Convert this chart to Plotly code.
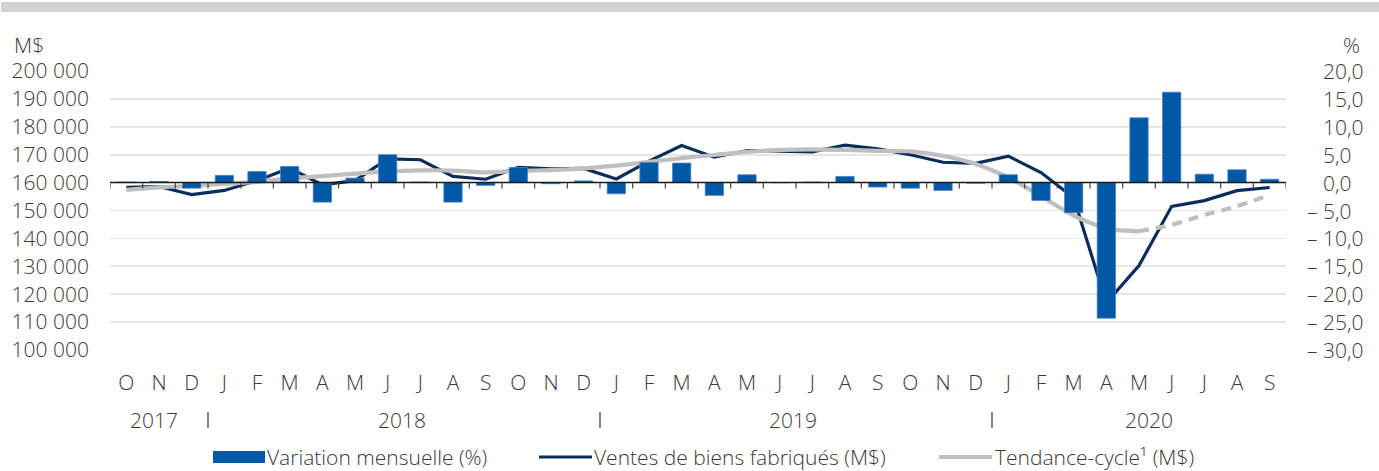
import plotly.graph_objects as go

# ---------------- data ----------------
months = ["O", "N", "D"] + ["J", "F", "M", "A", "M", "J", "J", "A", "S", "O", "N", "D"] * 2 + \
         ["J", "F", "M", "A", "M", "J", "J", "A", "S"]
years = ["2017", "2018", "2019", "2020"]
year_pos = [0.85, 8.45, 20.4, 31.3]
year_breaks = [2.5, 14.5, 26.5]

variation = [0.1, 0.2, -1.0, 1.3, 2.0, 2.9, -3.5, 0.8, 5.0, 0.1, -3.5, -0.5,
             2.7, -0.2, 0.3, -2.0, 3.6, 3.5, -2.3, 1.4, 0.0, 0.1, 1.1, -0.8,
             -1.0, -1.4, -0.1, 1.4, -3.2, -5.4, -24.3, 11.6, 16.2, 1.5, 2.3, 0.6]

ventes = [158300, 158600, 155700, 157200, 160700, 165200, 159200, 160700, 168500, 168200, 162200, 161200,
          165500, 164900, 165100, 161300, 167700, 173300, 169100, 171500, 171300, 171000, 173400, 172100,
          170000, 167300, 166900, 169500, 163600, 154600, 116900, 130250, 151500, 153550, 157130, 158250]

tendance = [157400, 158300, 158800, 159500, 160300, 161500, 162300, 163200, 164000, 164400, 164300, 163700,
            164200, 164500, 165100, 166100, 167400, 168800, 169900, 171000, 171700, 171900, 171700, 171350,
            171200, 169600, 166700, 161900, 155100, 148200, 143500, 142550, 144800, 148400, 151500, 155600]
trend_solid_end = 31  # last index of the solid part; dashed afterwards

left_ticks = [100000, 110000, 120000, 130000, 140000, 150000, 160000, 170000, 180000, 190000, 200000]
left_labels = ["100 000", "110 000", "120 000", "130 000", "140 000", "150 000",
               "160 000", "170 000", "180 000", "190 000", "200 000"]
right_ticks = [20, 15, 10, 5, 0, -5, -10, -15, -20, -25, -30]
right_labels = ["20,0", "15,0", "10,0", "5,0", "0,0", "\u2013 5,0", "\u2013 10,0",
                "\u2013 15,0", "\u2013 20,0", "\u2013 25,0", "\u2013 30,0"]

legend_labels = ["Variation mensuelle (%)", "Ventes de biens fabriqués (M$)", "Tendance-cycle¹ (M$)"]

# ---------------- style ----------------
W, H = 1379, 471
L, R, T, B = 110, 1286, 71, 350
BAR = "#0058a6"
NAVY = "#0b2d5b"
GREY = "#bfbfbf"
TXT = "#3a3a3a"
FONT = "Open Sans"
FS = 21
LEG_Y = 457

def px(x):
    return (x - L) / (R - L)

def py(y):
    return (B - y) / (B - T)

idx = list(range(len(months)))

fig = go.Figure()
fig.add_trace(go.Bar(x=idx, y=variation, yaxis="y2", width=0.56,
                     marker=dict(color=BAR, line=dict(color="#4d83c2", width=0.8)),
                     name=legend_labels[0], showlegend=False))
fig.add_trace(go.Scatter(x=idx, y=ventes, mode="lines", line=dict(color=NAVY, width=3.2),
                         name=legend_labels[1], showlegend=False))
fig.add_trace(go.Scatter(x=idx[:trend_solid_end + 1], y=tendance[:trend_solid_end + 1], mode="lines",
                         line=dict(color=GREY, width=4.2, shape="spline", smoothing=0.6),
                         name=legend_labels[2], showlegend=False))
fig.add_trace(go.Scatter(x=idx[trend_solid_end:], y=tendance[trend_solid_end:], mode="lines",
                         line=dict(color=GREY, width=4.2, dash="10px,7px"),
                         showlegend=False))

shapes = []
# top band
shapes.append(dict(type="rect", xref="paper", yref="paper", x0=px(1), x1=px(1379), y0=py(12), y1=py(2),
                   fillcolor="#d1d2d4", line=dict(width=0), layer="below"))
# zero axis line
shapes.append(dict(type="line", xref="paper", yref="y", x0=0, x1=1, y0=160000, y1=160000,
                   line=dict(color="#1a1a1a", width=1.5)))
# category tick marks on the axis line
for k in range(len(months) + 1):
    shapes.append(dict(type="line", xref="x", yref="paper", x0=k - 0.5, x1=k - 0.5,
                       y0=0.6, y1=0.6 - 6 / (B - T), line=dict(color="#444444", width=1.2)))
# year separators
for b in year_breaks:
    shapes.append(dict(type="line", xref="x", yref="paper", x0=b, x1=b, y0=py(412), y1=py(428),
                       line=dict(color=TXT, width=1.2)))
# legend swatches
shapes.append(dict(type="rect", xref="paper", yref="paper", x0=px(213), x1=px(265),
                   y0=py(LEG_Y + 6), y1=py(LEG_Y - 6), fillcolor=BAR, line=dict(width=0)))
shapes.append(dict(type="line", xref="paper", yref="paper", x0=px(539), x1=px(592), y0=py(LEG_Y), y1=py(LEG_Y),
                   line=dict(color=NAVY, width=3.2)))
shapes.append(dict(type="line", xref="paper", yref="paper", x0=px(939), x1=px(992), y0=py(LEG_Y), y1=py(LEG_Y),
                   line=dict(color=GREY, width=4)))

ann = []
font = dict(family=FONT, size=FS, color=TXT, weight=300)
ann.append(dict(text="M$", xref="paper", yref="paper", x=px(13), y=py(45), xanchor="left", yanchor="middle",
                showarrow=False, font=font, borderpad=0))
ann.append(dict(text="%", xref="paper", yref="paper", x=px(1352), y=py(45), xanchor="center", yanchor="middle",
                showarrow=False, font=font, borderpad=0))
for v, t in zip(right_ticks, right_labels):
    xl = 1322 if v >= 0 else 1306
    ann.append(dict(text=t, xref="paper", yref="y2", x=px(xl), y=v, xanchor="left", yanchor="middle",
                    showarrow=False, font=font, borderpad=0))
for yv, xp in zip(years, year_pos):
    ann.append(dict(text=yv, xref="x", yref="paper", x=xp, y=py(420), xanchor="center", yanchor="middle",
                    showarrow=False, font=font))
for t, xl in zip(legend_labels, [266, 593, 994]):
    ann.append(dict(text=t, xref="paper", yref="paper", x=px(xl), y=py(LEG_Y), xanchor="left", yanchor="middle",
                    showarrow=False, font=font, borderpad=0))

fig.update_layout(
    width=W, height=H,
    margin=dict(l=L, r=W - R, t=T, b=H - B, pad=0),
    plot_bgcolor="white", paper_bgcolor="white",
    showlegend=False,
    hovermode=False,
    font=dict(family=FONT, size=FS, color=TXT),
    xaxis=dict(range=[-0.5, len(months) - 0.5], tickvals=idx, ticktext=months, showgrid=False,
               zeroline=False, showline=False, ticks="", tickfont=font, ticklabelstandoff=18),
    yaxis=dict(range=[100000, 200000], tickvals=left_ticks, ticktext=left_labels, showgrid=True,
               gridcolor="#e6e6e6", gridwidth=1.6, zeroline=False, showline=False, ticks="",
               tickfont=font, ticklabelstandoff=20),
    yaxis2=dict(range=[-30, 20], overlaying="y", side="right", showgrid=False, zeroline=False,
                showticklabels=False, showline=False, ticks=""),
    shapes=shapes,
    annotations=ann,
)

fig.write_html("out.html", config={"displayModeBar": False, "staticPlot": True},
               post_script="document.body.style.margin='0';document.body.style.padding='0';")
